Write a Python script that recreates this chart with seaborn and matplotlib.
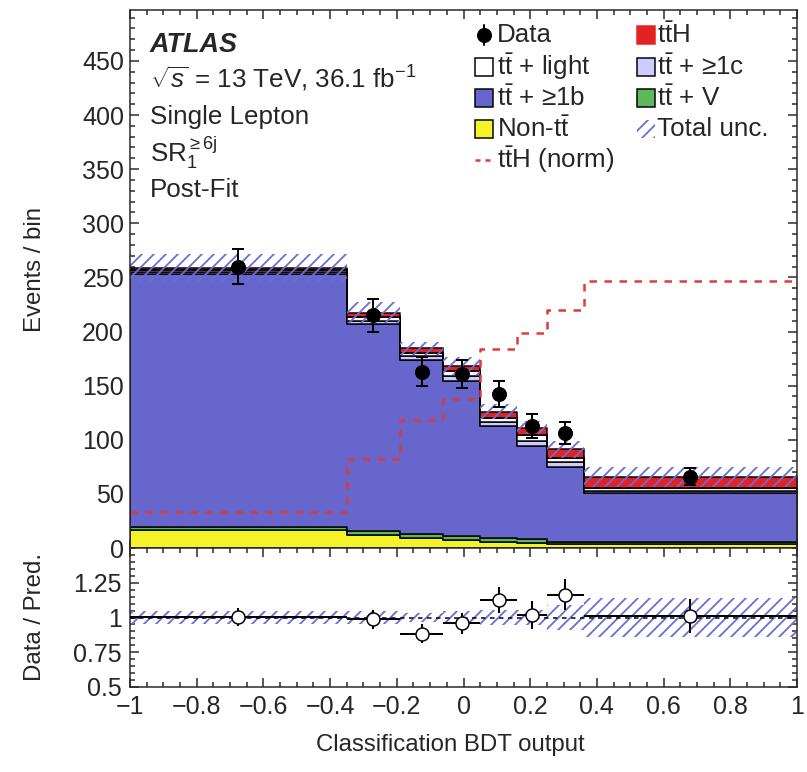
import numpy as np
import pandas as pd
import matplotlib
matplotlib.use("Agg")
import matplotlib.pyplot as plt
import seaborn as sns
from matplotlib.patches import Rectangle
from matplotlib.lines import Line2D
from matplotlib.ticker import MultipleLocator, FixedLocator, FuncFormatter

# Binning of the classification BDT output
bin_edges = [-1.0, -0.35, -0.19, -0.06, 0.05, 0.16, 0.25, 0.36, 1.0]

# Observed events per bin
data_counts = [260, 215, 163, 161, 142, 113, 106, 66]
data_errors = [16, 15, 13, 13, 12, 11, 10, 8]

# Post-fit predictions per bin, bottom of the stack first
non_tt = [16.5, 12, 9.5, 7, 6, 5, 4, 4]
tt_v = [3, 4, 3.5, 4, 3, 3, 2, 2]
tt_1b = [233.5, 191, 161, 143, 104, 86, 69, 45]
tt_1c = [2, 3, 3, 5, 3.5, 5, 4.5, 2]
tt_light = [2, 3, 3.5, 4.5, 3.5, 5, 4, 2]
tth = [2, 4.5, 4, 4.5, 6, 7, 7.5, 10.5]

# Total uncertainty on the prediction
total_unc = [13, 10, 6, 8, 7, 6, 8, 9]

# Signal shape normalised to the total background
tth_norm = [33, 82, 118, 138, 184, 199, 220, 247]

process_names = ["Non-tt", "ttV", "tt1b", "tt1c", "ttlight", "ttH"]
process_values = [non_tt, tt_v, tt_1b, tt_1c, tt_light, tth]
palette = {
    "Non-tt": "#f6f22a",
    "ttV": "#5cb85c",
    "tt1b": "#6666cc",
    "tt1c": "#ccccff",
    "ttlight": "#ffffff",
    "ttH": "#e52222",
}
hatch_color = "#6c6cd8"
norm_color = "#e03a3a"

edges = np.array(bin_edges)
centers = 0.5 * (edges[:-1] + edges[1:])
half_widths = 0.5 * np.diff(edges)
stack = np.array(process_values, dtype=float)
total = stack.sum(axis=0)
below_tth = stack[:-1].sum(axis=0)
unc = np.array(total_unc, dtype=float)
data = np.array(data_counts, dtype=float)
derr = np.array(data_errors, dtype=float)

rows = []
for name, vals in zip(process_names, process_values):
    for c, v in zip(centers, vals):
        rows.append({"bdt": c, "events": v, "process": name})
df = pd.DataFrame(rows)

sns.set_style("ticks")
plt.rcParams["font.family"] = ["Liberation Sans", "DejaVu Sans"]
plt.rcParams["mathtext.fontset"] = "custom"
plt.rcParams["mathtext.rm"] = "Liberation Sans"
plt.rcParams["mathtext.it"] = "Liberation Sans:italic"
plt.rcParams["mathtext.bf"] = "Liberation Sans:bold"
plt.rcParams["hatch.linewidth"] = 1.8

W, H, DPI = 807, 772, 72
fig = plt.figure(figsize=(W / DPI, H / DPI), dpi=DPI)
fig.patch.set_facecolor("white")


def fx(x):
    return x / W


def fy(y):
    return 1 - y / H


def tick_fmt(v, pos):
    v = round(v, 6)
    if v == 0:
        return "0"
    return f"{v:g}".replace("-", "\u2212")


L, R = 130, 797
T_MAIN, B_MAIN, B_RATIO = 10, 548, 687
ax = fig.add_axes([fx(L), fy(B_MAIN), (R - L) / W, (B_MAIN - T_MAIN) / H])
rax = fig.add_axes([fx(L), fy(B_RATIO), (R - L) / W, (B_RATIO - B_MAIN) / H], sharex=ax)

# Stacked predictions
sns.histplot(data=df, x="bdt", weights="events", hue="process",
             hue_order=process_names[::-1], bins=bin_edges, multiple="stack",
             element="step", fill=True, palette=palette, alpha=1,
             edgecolor="black", linewidth=1.5, legend=False, ax=ax)

# Dashed boundary of the background sum
ax.stairs(below_tth, edges, baseline=None, color="black",
          linestyle=(0, (4, 3)), linewidth=1.5)

# Total uncertainty band
ax.stairs(total + unc, edges, baseline=total - unc, fill=True,
          facecolor="none", edgecolor=hatch_color, hatch="//", linewidth=0)

# Normalised signal shape
sns.histplot(x=centers, weights=tth_norm, bins=bin_edges, element="step",
             fill=False, color=norm_color, linestyle=(0, (3, 3)),
             linewidth=2.5, ax=ax)

# Data
ax.errorbar(centers, data, yerr=derr, fmt="o", color="black", ms=14,
            elinewidth=2, capsize=6, capthick=2, zorder=5)

ax.set_xlim(-1, 1)
ax.set_ylim(0, 497)
ax.set_xlabel("")
ax.set_ylabel("")
ax.yaxis.set_major_locator(MultipleLocator(50))
ax.yaxis.set_minor_locator(MultipleLocator(10))
ax.xaxis.set_major_locator(MultipleLocator(0.2))
ax.xaxis.set_minor_locator(MultipleLocator(0.05))
ax.tick_params(labelbottom=False)

# Ratio panel
rel = unc / total
ratio = data / total
ratio_err = derr / total
rax.stairs(1 + rel, edges, baseline=1 - rel, fill=True, facecolor="none",
           edgecolor=hatch_color, hatch="//", linewidth=0)
rax.axhline(1, color="black", linestyle=(0, (3, 3)), linewidth=1.5)
rax.errorbar(centers, ratio, xerr=half_widths, yerr=ratio_err, fmt="o",
             color="black", mfc="white", mec="black", mew=1.5, ms=13,
             elinewidth=2, capsize=0, zorder=5)
rax.set_ylim(0.5, 1.5)
rax.yaxis.set_major_locator(FixedLocator([0.5, 0.75, 1.0, 1.25]))
rax.yaxis.set_major_formatter(FuncFormatter(lambda v, p: f"{v:g}"))
rax.yaxis.set_minor_locator(MultipleLocator(0.05))
rax.xaxis.set_major_formatter(FuncFormatter(tick_fmt))
rax.set_xlabel("")
rax.set_ylabel("")

for a in (ax, rax):
    a.tick_params(which="both", direction="in", top=True, right=True,
                  width=1.5, labelsize=25, pad=6)
    a.tick_params(which="major", length=9)
    a.tick_params(which="minor", length=5)
    for s in a.spines.values():
        s.set_linewidth(1.5)
        s.set_visible(True)
rax.tick_params(axis="x", which="major", pad=8)
rax.tick_params(axis="y", which="major", pad=8)

fig.text(fx(35), fy(270), "Events / bin", rotation=90, ha="center", va="center", fontsize=24)
fig.text(fx(35), fy(617), "Data / Pred.", rotation=90, ha="center", va="center", fontsize=24)
fig.text(fx(450), fy(745), "Classification BDT output", ha="center", va="center", fontsize=24)

# Labels in the top-left corner
fig.text(fx(150), fy(45), "ATLAS", fontsize=27, fontweight="bold", fontstyle="italic", va="center")
fig.text(fx(150), fy(79), r"$\sqrt{s}$ = 13 TeV, 36.1 fb$^{-1}$", fontsize=26, va="center")
fig.text(fx(150), fy(117), "Single Lepton", fontsize=26, va="center")
fig.text(fx(150), fy(153), r"SR$_{1}^{\geq 6\mathrm{j}}$", fontsize=26, va="center")
fig.text(fx(150), fy(190), "Post-Fit", fontsize=26, va="center")

# Legend
TT = r"$\mathrm{t\bar{t}}$"
LEG_FS = 26
BOX = 18


def leg_box(x, y, fc, hatch=None, ec="black", lw=1.5):
    fig.add_artist(Rectangle((fx(x), fy(y + BOX / 2)), BOX / W, BOX / H,
                             transform=fig.transFigure, facecolor=fc,
                             edgecolor=ec, linewidth=lw, hatch=hatch))


def leg_text(x, y, s):
    fig.text(fx(x), fy(y), s, fontsize=LEG_FS, va="center", ha="left")


C1, C2 = 475, 637
rows_y = [35, 67, 98, 129, 160]
fig.add_artist(Line2D([fx(C1 + 9)] * 2, [fy(rows_y[0] - 10), fy(rows_y[0] + 10)],
                      transform=fig.transFigure, color="black", lw=2))
fig.add_artist(Line2D([fx(C1 + 9)], [fy(rows_y[0])], transform=fig.transFigure,
                      marker="o", ms=14, color="black", lw=0))
leg_text(C1 + 22, rows_y[0], "Data")
leg_box(C1, rows_y[1], palette["ttlight"])
leg_text(C1 + 22, rows_y[1], TT + " + light")
leg_box(C1, rows_y[2], palette["tt1b"])
leg_text(C1 + 22, rows_y[2], TT + " + \u22651b")
leg_box(C1, rows_y[3], palette["Non-tt"])
leg_text(C1 + 22, rows_y[3], "Non-" + TT)
fig.add_artist(Line2D([fx(C1), fx(C1 + 18)], [fy(rows_y[4])] * 2,
                      transform=fig.transFigure, color=norm_color, lw=2.5,
                      linestyle=(0, (2, 2))))
leg_text(C1 + 22, rows_y[4], r"$\mathrm{t\bar{t}H}$ (norm)")

leg_box(C2, rows_y[0], palette["ttH"], ec=palette["ttH"])
leg_text(C2 + 20, rows_y[0], r"$\mathrm{t\bar{t}H}$")
leg_box(C2, rows_y[1], palette["tt1c"])
leg_text(C2 + 20, rows_y[1], TT + " + \u22651c")
leg_box(C2, rows_y[2], palette["ttV"])
leg_text(C2 + 20, rows_y[2], TT + " + V")
leg_box(C2, rows_y[3], "none", hatch="//", ec=hatch_color, lw=0)
leg_text(C2 + 20, rows_y[3], "Total unc.")

fig.savefig("out.png", dpi=DPI, facecolor="white")
